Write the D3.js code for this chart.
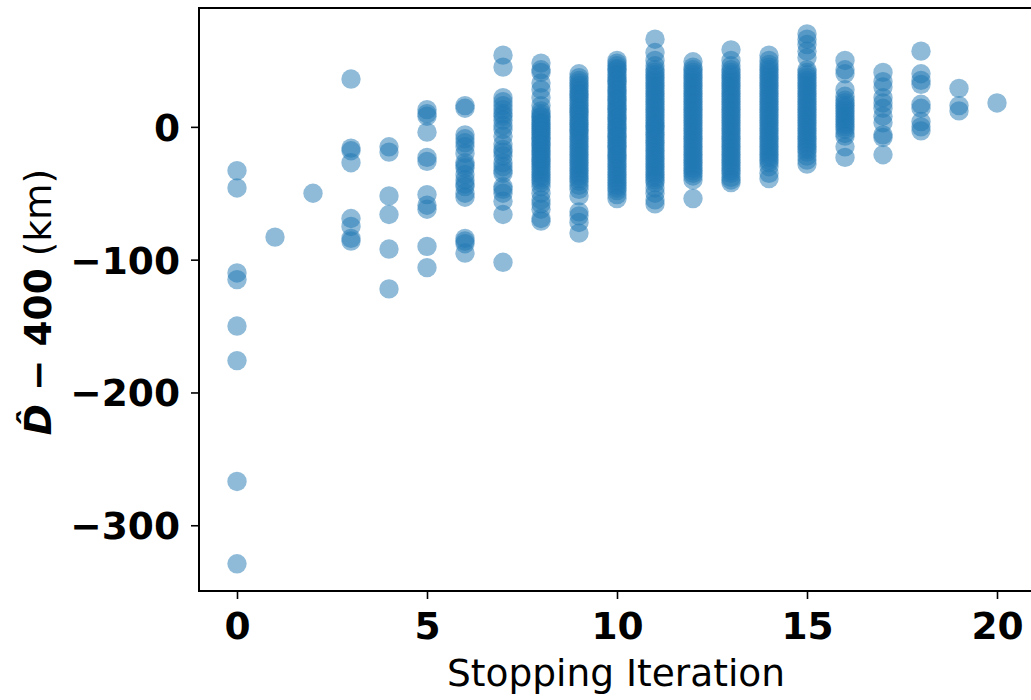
<!DOCTYPE html>
<html><head><meta charset="utf-8">
<script src="https://cdn.jsdelivr.net/npm/d3@7"></script>
<style>body{margin:0;background:#fff}</style>
</head><body>
<script>
// Stopping iteration (x) and D̂ − 400 in km (y), one list per iteration
const iterations = [0,1,2,3,4,5,6,7,8,9,10,11,12,13,14,15,16,17,18,19,20];
const it0 = [-33,-46,-110,-115,-150,-176,-267,-329];
const it1 = [-83];
const it2 = [-50];
const it3 = [36,-16,-18,-27,-69,-75,-84,-86];
const it4 = [-15,-19,-52,-66,-92,-122];
const it5 = [13,10,8,-4,-23,-26,-51,-59,-62,-90,-106];
const it6 = [16,14,-6,-9,-12,-15,-20,-27,-29,-31,-36,-40,-43,-45,-50,-53,-84,-86,-88,-95];
const it7 = [54,45,22,19,16,13,10,8,5,1,-2,-7,-13,-17,-19,-22,-27,-30,-33,-35,-45,-47,-50,-56,-66,-102];
const it8 = [48,43,41,33,28,22,16,12,10,8,7,5,3,2,0,-1,-3,-4,-6,-8,-9,-11,-13,-14,-16,-18,-19,-21,-23,-25,-26,-28,-30,-32,-34,-36,-38,-40,-42,-45,-50,-55,-58,-62,-69,-71];
const it9 = [40,37,35,33,31,29,27,25,24,22,20,18,16,14,12,11,9,7,5,3,2,0,-2,-3,-5,-7,-9,-11,-13,-15,-17,-19,-21,-23,-25,-27,-29,-31,-33,-35,-37,-39,-41,-44,-47,-52,-64,-67,-72,-80];
const it10 = [50,48,46,44,43,41,39,37,35,34,32,30,28,27,25,23,21,20,18,16,14,13,11,9,7,6,4,2,0,-1,-3,-5,-7,-8,-10,-12,-14,-15,-17,-19,-21,-22,-24,-26,-28,-30,-32,-34,-36,-38,-40,-42,-44,-46,-48,-51,-54];
const it11 = [66,56,50,46,43,41,39,37,35,33,31,29,27,25,23,21,19,17,15,13,11,9,7,5,3,1,0,-2,-4,-6,-8,-10,-12,-14,-16,-18,-20,-22,-24,-26,-28,-30,-32,-34,-36,-38,-40,-42,-46,-50,-55,-58];
const it12 = [49,45,43,41,39,37,35,33,31,29,27,25,23,21,19,17,15,13,11,9,7,5,3,1,-1,-3,-5,-7,-9,-11,-13,-15,-17,-19,-21,-23,-25,-27,-29,-31,-33,-35,-37,-40,-54];
const it13 = [58,50,46,43,41,39,37,35,33,31,29,27,25,23,21,19,17,15,13,11,9,7,5,3,1,-1,-3,-5,-7,-9,-11,-13,-15,-17,-19,-21,-23,-25,-27,-29,-31,-33,-35,-38,-40,-42];
const it14 = [54,50,47,45,43,41,39,37,35,33,31,29,27,25,23,21,19,17,15,13,11,9,7,5,3,1,-1,-3,-5,-7,-9,-11,-13,-15,-17,-19,-21,-23,-25,-27,-30,-35,-39];
const it15 = [70,66,62,57,52,43,41,39,37,35,33,31,29,27,25,23,21,19,17,15,13,11,9,7,5,3,1,-1,-3,-5,-7,-9,-11,-13,-15,-17,-19,-22,-25,-28];
const it16 = [50,43,40,28,23,20,18,16,14,12,10,8,6,4,2,0,-2,-5,-7,-15,-23];
const it17 = [41,34,30,22,18,14,8,3,-6,-8,-21];
const it18 = [57,40,35,32,17,14,4,0,-3];
const it19 = [29,16,12];
const it20 = [18];
const deviations = [it0,it1,it2,it3,it4,it5,it6,it7,it8,it9,it10,it11,it12,it13,it14,it15,it16,it17,it18,it19,it20];
const xTicks = [0,5,10,15,20];
const yTicks = [0,-100,-200,-300];

const points = [];
iterations.forEach((it, i) => deviations[i].forEach(v => points.push({x: it, y: v})));

const W = 1031, H = 700;
const mLeft = 199, mTop = 8, mRight = 1035, mBottom = 591;
const svg = d3.select("body").append("svg").attr("width", W).attr("height", H);

const x = d3.scaleLinear().domain([-1, 21]).range([mLeft, mRight]);
const y = d3.scaleLinear().domain([-349.5, 89.5]).range([mBottom, mTop]);

svg.append("g").selectAll("circle").data(points).enter().append("circle")
  .attr("cx", d => x(d.x)).attr("cy", d => y(d.y)).attr("r", 9.7)
  .attr("fill", "#1f77b4").attr("fill-opacity", 0.5);

const font = "'DejaVu Sans', sans-serif";
const fs = "37.5px";
const xAxis = svg.append("g").attr("transform", `translate(0,${mBottom})`)
  .call(d3.axisBottom(x).tickValues(xTicks).tickFormat(d3.format("d")).tickSize(8).tickPadding(13));
const yAxis = svg.append("g").attr("transform", `translate(${mLeft},0)`)
  .call(d3.axisLeft(y).tickValues(yTicks).tickFormat(d => d < 0 ? "\u2212" + Math.abs(d) : String(d)).tickSize(8).tickPadding(11));
[xAxis, yAxis].forEach(g => {
  g.select(".domain").remove();
  g.selectAll(".tick line").attr("stroke", "#000").attr("stroke-width", 1.6);
  g.selectAll(".tick text").attr("fill", "#000").style("font-family", font)
   .style("font-size", fs).style("font-weight", "bold");
});
yAxis.selectAll(".tick text").attr("dy", "0.36em");

// frame
svg.append("rect").attr("x", mLeft).attr("y", mTop).attr("width", mRight - mLeft).attr("height", mBottom - mTop)
  .attr("fill", "none").attr("stroke", "#000").attr("stroke-width", 2);

svg.append("text").attr("x", 616).attr("y", 686).attr("text-anchor", "middle")
  .style("font-family", font).style("font-size", fs).attr("fill", "#000").text("Stopping Iteration");

const yl = svg.append("text").attr("transform", "translate(51,302) rotate(-90)").attr("text-anchor", "middle")
  .style("font-family", font).style("font-size", fs).attr("fill", "#000");
yl.append("tspan").style("font-weight", "bold").style("font-style", "italic").text("D\u0302");
yl.append("tspan").style("font-weight", "bold").text(" \u2212 400");
yl.append("tspan").text(" (km)");
</script>
</body></html>
